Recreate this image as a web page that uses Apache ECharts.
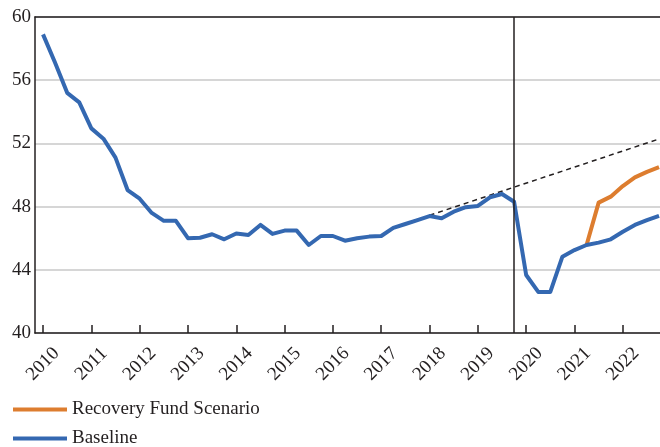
<!DOCTYPE html>
<html>
<head>
<meta charset="utf-8">
<script src="https://cdn.jsdelivr.net/npm/echarts@6/dist/echarts.min.js"></script>
<style>
  html, body { margin: 0; padding: 0; background: #fff; }
  #chart { width: 660px; height: 447px; }
</style>
</head>
<body>
<div id="chart"></div>
<script>
// quarterly data, 2010Q1 .. 2022Q4
var startYear = 2010;
var years = [2010, 2011, 2012, 2013, 2014, 2015, 2016, 2017, 2018, 2019, 2020, 2021, 2022];
var yTicks = [40, 44, 48, 52, 56, 60];

var baseline = [
    58.9, 57.1, 55.2, 54.6, 52.95, 52.3, 51.1, 49.05,
    48.5, 47.6, 47.1, 47.1, 46.0, 46.03, 46.25, 45.93,
    46.3, 46.2, 46.84, 46.27, 46.48, 46.48, 45.57, 46.14,
    46.14, 45.84, 46.0, 46.1, 46.14, 46.65, 46.9, 47.15,
    47.4, 47.26, 47.68, 47.96, 48.04, 48.59, 48.8, 48.31,
    43.67, 42.6, 42.6, 44.83, 45.25, 45.57, 45.72, 45.93,
    46.41, 46.84, 47.15, 47.42
];
// scenario starts at 2021Q2 (index 45)
var recoveryStart = 45;
var recovery = [45.57, 48.25, 48.63, 49.3, 49.85, 50.2, 50.5];

// pre-crisis trend (dashed)
var trendX = [2018.0, 2022.77];
var trendY = [47.45, 52.3];

var breakX = 2019.75;

function toPairs(values, offset) {
    return values.map(function (v, i) {
        return [startYear + (offset + i) / 4, v];
    });
}

var chart = echarts.init(document.getElementById('chart'));

var textColor = '#231f20';
var serif = 'Liberation Serif';

function legendAt(name, top) {
    return {
        data: [name],
        left: 8,
        top: top,
        icon: 'rect',
        itemWidth: 54,
        itemHeight: 4,
        itemGap: 6,
        textStyle: { fontFamily: serif, fontSize: 19, color: textColor }
    };
}

chart.setOption({
    animation: false,
    grid: { left: 35, right: 0, top: 17, bottom: 114 },
    legend: [
        legendAt('Recovery Fund Scenario', 395),
        legendAt('Baseline', 424)
    ],
    xAxis: [{
        type: 'value',
        min: 2009.834,
        max: 2022.77,
        axisLine: { lineStyle: { color: textColor, width: 1.5 } },
        axisTick: {
            show: true, inside: true, length: 8,
            customValues: years,
            lineStyle: { color: textColor, width: 1.5 }
        },
        axisLabel: {
            customValues: years,
            formatter: function (v) { return String(Math.round(v)); },
            rotate: 45,
            align: 'center',
            verticalAlign: 'middle',
            margin: 31,
            fontFamily: serif,
            fontSize: 19,
            color: textColor
        },
        splitLine: { show: false }
    }, {
        type: 'value',
        position: 'top',
        min: 2009.834,
        max: 2022.77,
        axisLine: { show: true, onZero: false, lineStyle: { color: textColor, width: 1.5 } },
        axisTick: { show: false },
        axisLabel: { show: false },
        splitLine: { show: false }
    }],
    yAxis: {
        type: 'value',
        min: yTicks[0],
        max: yTicks[yTicks.length - 1],
        interval: 4,
        axisLine: { show: true, lineStyle: { color: textColor, width: 1.5 } },
        axisTick: { show: false },
        axisLabel: { fontFamily: serif, fontSize: 19, color: textColor, margin: 4 },
        splitLine: { lineStyle: { color: '#c8c8c8', width: 1.5 } }
    },
    series: [{
        name: 'Pre-crisis trend',
        type: 'line',
        data: trendX.map(function (x, i) { return [x, trendY[i]]; }),
        symbol: 'none',
        lineStyle: { color: '#231f20', width: 1.5, type: [5, 4] },
        silent: true,
        z: 1
    }, {
        name: 'Recovery Fund Scenario',
        type: 'line',
        data: toPairs(recovery, recoveryStart),
        symbol: 'none',
        color: '#dd7d2f',
        lineStyle: { color: '#dd7d2f', width: 4, join: 'round' },
        z: 2
    }, {
        name: 'Baseline',
        type: 'line',
        data: toPairs(baseline, 0),
        symbol: 'none',
        color: '#3468b1',
        lineStyle: { color: '#3468b1', width: 4, join: 'round' },
        z: 3,
        markLine: {
            silent: true,
            symbol: 'none',
            label: { show: false },
            lineStyle: { color: '#231f20', width: 1.5, type: 'solid' },
            data: [{ xAxis: breakX }]
        }
    }]
});
</script>
</body>
</html>
